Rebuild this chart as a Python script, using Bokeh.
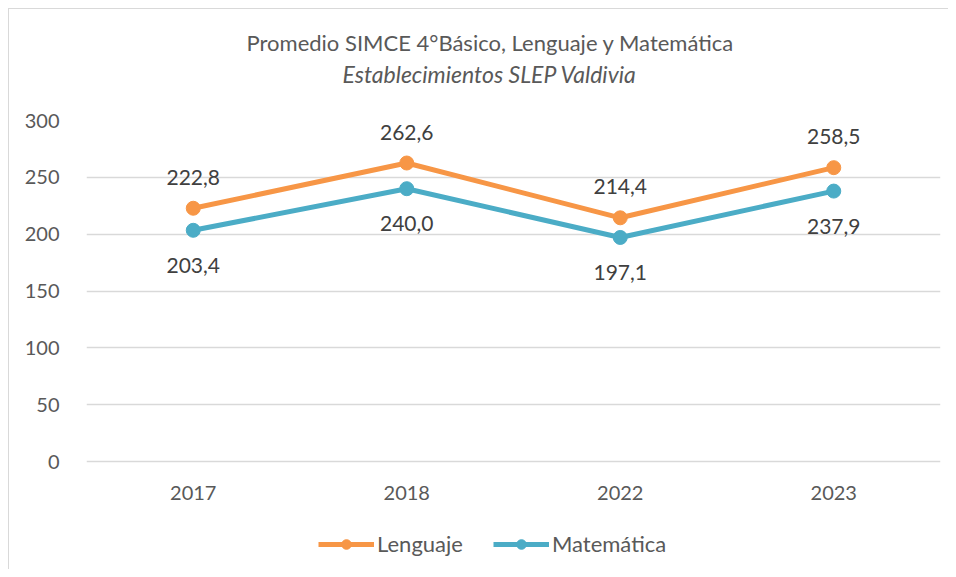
from bokeh.plotting import figure
from bokeh.models import Title, Legend, LegendItem, FixedTicker
from bokeh.core.properties import value
from bokeh.embed import file_html
from bokeh.resources import INLINE

years = ["2017", "2018", "2022", "2023"]
lenguaje = [222.8, 262.6, 214.4, 258.5]
matematica = [203.4, 240.0, 197.1, 237.9]
y_ticks = [0, 50, 100, 150, 200, 250, 300]

title_text = "Promedio SIMCE 4°Básico, Lenguaje y Matemática"
subtitle_text = "Establecimientos SLEP Valdivia"

FONT = "Lato"
ORANGE = "#F79646"
BLUE = "#4BACC6"
TXT = "#595959"
LBL = "#404040"

FW, FH = 854, 449
p = figure(x_range=years, y_range=(-95, 300), frame_width=FW, frame_height=FH,
           output_backend="svg", toolbar_location=None,
           min_border_left=77, min_border_right=8, min_border_top=111, min_border_bottom=0)
p.title = None
p.styles = {"margin-left": "8px", "margin-top": "8px",
            "border-left": "1px solid #D9D9D9", "border-top": "1px solid #D9D9D9"}
p.outline_line_color = None

spacer = Title(text=" ", text_font=FONT, text_font_size="10px", standoff=19)
sub = Title(text=subtitle_text, align="left", offset=256, text_font=FONT, text_font_size="23px",
            text_font_style="italic", text_color=TXT, standoff=0)
main = Title(text=title_text, align="left", offset=160, text_font=FONT, text_font_size="22px",
             text_font_style="normal", text_color=TXT, standoff=4)
p.add_layout(spacer, "above")
p.add_layout(sub, "above")
p.add_layout(main, "above")

l1 = p.line(x=years, y=lenguaje, line_color=ORANGE, line_width=5)
s1 = p.scatter(x=years, y=lenguaje, size=14, fill_color=ORANGE, line_color=ORANGE)
l2 = p.line(x=years, y=matematica, line_color=BLUE, line_width=5)
s2 = p.scatter(x=years, y=matematica, size=14, fill_color=BLUE, line_color=BLUE)

fmt = lambda v: f"{v:.1f}".replace(".", ",")
p.text(x=years, y=lenguaje, text=[fmt(v) for v in lenguaje], y_offset=-31,
       text_align="center", text_baseline="middle", text_font=value(FONT),
       text_font_size="21px", text_color=LBL)
p.text(x=years, y=matematica, text=[fmt(v) for v in matematica], y_offset=35,
       text_align="center", text_baseline="middle", text_font=value(FONT),
       text_font_size="21px", text_color=LBL)

p.yaxis.ticker = FixedTicker(ticks=y_ticks)
p.xaxis.fixed_location = 0
for ax in (p.xaxis[0], p.yaxis[0]):
    ax.axis_line_color = None
    ax.major_tick_line_color = None
    ax.minor_tick_line_color = None
    ax.major_tick_out = 0
    ax.major_tick_in = 0
    ax.minor_tick_out = 0
    ax.major_label_text_font = FONT
    ax.major_label_text_font_size = "20px"
    ax.major_label_text_color = TXT
p.yaxis.major_label_standoff = 27
p.xaxis.major_label_standoff = 24

p.xgrid.grid_line_color = None
p.ygrid.grid_line_color = "#D9D9D9"
p.ygrid.grid_line_width = 1.5

legend = Legend(items=[LegendItem(label="Lenguaje", renderers=[l1, s1]),
                       LegendItem(label="Matemática", renderers=[l2, s2])],
                orientation="horizontal", location=(232, 12),
                glyph_width=56, glyph_height=24, label_height=24, label_standoff=3, spacing=30,
                padding=0, margin=0, border_line_color=None, background_fill_alpha=0,
                label_text_font=FONT, label_text_font_size="22px", label_text_color=TXT)
p.add_layout(legend, "center")

open("out.html", "w").write(file_html(p, INLINE))
